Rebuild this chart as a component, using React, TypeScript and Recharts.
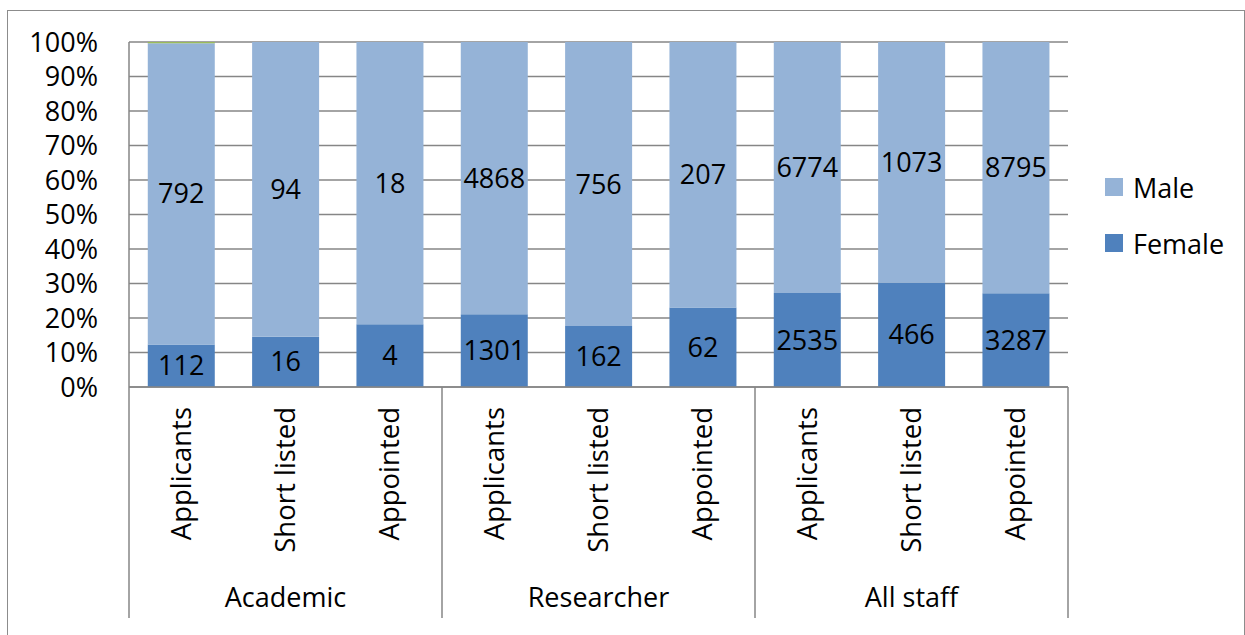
import React from "react";
import { BarChart, Bar, XAxis, YAxis, CartesianGrid, LabelList } from "recharts";

const stages = ["Applicants", "Short listed", "Appointed", "Applicants", "Short listed", "Appointed", "Applicants", "Short listed", "Appointed"];
const groups = ["Academic", "Researcher", "All staff"];
const femaleCounts = [112, 16, 4, 1301, 162, 62, 2535, 466, 3287];
const maleCounts = [792, 94, 18, 4868, 756, 207, 6774, 1073, 8795];
const otherCounts = [3, 0, 0, 0, 0, 0, 0, 0, 0];
const yTicks = [0, 0.1, 0.2, 0.3, 0.4, 0.5, 0.6, 0.7, 0.8, 0.9, 1];
const legendItems = [
  { name: "Male", color: "#95B3D7" },
  { name: "Female", color: "#4F81BD" },
];

const data = stages.map((s, i) => ({
  key: String(i),
  stage: s,
  group: groups[Math.floor(i / 3)],
  Female: femaleCounts[i],
  Male: maleCounts[i],
  Other: otherCounts[i],
}));

const CHART_W = 1236;
const CHART_H = 624;
const MARGIN = { top: 31, right: 176, bottom: 8, left: 0 };
const Y_W = 121;
const X_H = 240;
const PLOT_W = CHART_W - MARGIN.left - MARGIN.right - Y_W;
const BAND = PLOT_W / data.length;
const FONT = "'Open Sans', sans-serif";
const AXIS_GRAY = "#868686";

const CategoryTick = (props: any) => {
  const { x, y, payload } = props;
  const i = Number(payload.value);
  const d = data[i];
  const sepH = 231;
  return (
    <g>
      <text
        x={x}
        y={y + 20}
        transform={`rotate(-90, ${x}, ${y + 20})`}
        textAnchor="end"
        dy="0.35em"
        fontSize={27.5}
        fontFamily={FONT}
        fill="#000"
      >
        {d.stage}
      </text>
      {i % 3 === 1 && (
        <text x={x} y={y + 211} textAnchor="middle" dy="0.35em" fontSize={27} fontFamily={FONT} fill="#000">
          {d.group}
        </text>
      )}
      {i % 3 === 0 && (
        <line x1={x - BAND / 2} x2={x - BAND / 2} y1={y} y2={y + sepH} stroke={AXIS_GRAY} strokeWidth={1.5} />
      )}
      {i === data.length - 1 && (
        <line x1={x + BAND / 2} x2={x + BAND / 2} y1={y} y2={y + sepH} stroke={AXIS_GRAY} strokeWidth={1.5} />
      )}
    </g>
  );
};

export default function App() {
  return (
    <div
      style={{
        position: "absolute",
        left: 7,
        top: 10,
        width: CHART_W,
        height: CHART_H,
        borderTop: "1px solid #8c8c8c",
        borderLeft: "1px solid #8c8c8c",
        borderRight: "1px solid #8c8c8c",
        background: "#fff",
        fontFamily: FONT,
        overflow: "hidden",
      }}
    >
      <BarChart
        width={CHART_W}
        height={CHART_H}
        data={data}
        margin={MARGIN}
        stackOffset="expand"
        barCategoryGap="18%"
      >
        <CartesianGrid vertical={false} stroke={AXIS_GRAY} strokeWidth={1.3} />
        <XAxis
          dataKey="key"
          interval={0}
          height={X_H}
          tickLine={false}
          tickSize={0}
          tickMargin={0}
          axisLine={{ stroke: AXIS_GRAY, strokeWidth: 1.5 }}
          tick={<CategoryTick />}
        />
        <YAxis
          width={Y_W}
          domain={[0, 1]}
          ticks={yTicks}
          interval={0}
          tickFormatter={(v: number) => `${Math.round(v * 100)}%`}
          tickLine={false}
          tickSize={0}
          tickMargin={31}
          axisLine={{ stroke: AXIS_GRAY, strokeWidth: 1.5 }}
          tick={{ fontSize: 27, fill: "#000", fontFamily: FONT }}
        />
        <Bar dataKey="Female" stackId="a" fill="#4F81BD" isAnimationActive={false}>
          <LabelList dataKey="Female" position="center" fill="#000" fontSize={27} fontFamily={FONT} />
        </Bar>
        <Bar dataKey="Male" stackId="a" fill="#95B3D7" isAnimationActive={false}>
          <LabelList dataKey="Male" position="center" fill="#000" fontSize={27} fontFamily={FONT} />
        </Bar>
        <Bar dataKey="Other" stackId="a" fill="#9BBB59" isAnimationActive={false} legendType="none" />
      </BarChart>
      {legendItems.map((it, k) => (
        <div
          key={it.name}
          style={{
            position: "absolute",
            left: 1097,
            top: 158 + k * 56,
            height: 36,
            display: "flex",
            alignItems: "center",
            fontSize: 27,
            color: "#000",
          }}
        >
          <span style={{ display: "inline-block", width: 18, height: 18, background: it.color, marginRight: 10 }} />
          <span>{it.name}</span>
        </div>
      ))}
    </div>
  );
}
